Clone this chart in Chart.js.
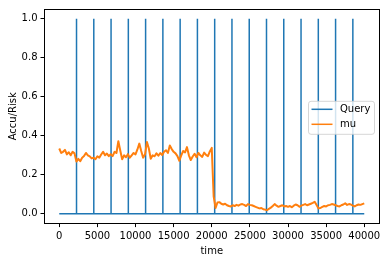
<!DOCTYPE html>
<html>
<head>
<meta charset="utf-8">
<script src="https://cdn.jsdelivr.net/npm/chart.js@4"></script>
<style>
  html, body { margin: 0; padding: 0; background: #fff; }
  canvas { display: block; }
</style>
</head>
<body>
<canvas id="chart" width="386" height="262"></canvas>
<script>
// mu is sampled every muStep time units, starting at 0
const muStep = 250;
const muValues = [
    // 0 - 4750
    0.335, 0.312, 0.318, 0.328, 0.305, 0.316, 0.300, 0.318, 0.310, 0.268,
    0.282, 0.270, 0.288, 0.296, 0.312, 0.300, 0.295, 0.284, 0.288, 0.280,
    // 5000 - 9750
    0.295, 0.288, 0.304, 0.318, 0.300, 0.309, 0.296, 0.306, 0.296, 0.318,
    0.312, 0.372, 0.325, 0.280, 0.300, 0.290, 0.306, 0.288, 0.300, 0.312,
    // 10000 - 14750
    0.305, 0.330, 0.360, 0.322, 0.288, 0.305, 0.368, 0.335, 0.282, 0.300,
    0.295, 0.310, 0.298, 0.312, 0.302, 0.318, 0.326, 0.312, 0.350, 0.332,
    // 15000 - 19750
    0.318, 0.310, 0.296, 0.272, 0.300, 0.322, 0.315, 0.342, 0.300, 0.276,
    0.294, 0.308, 0.290, 0.312, 0.300, 0.292, 0.314, 0.302, 0.296, 0.320,
    // 20000 - 24750
    0.338, 0.090, 0.030, 0.058, 0.060, 0.052, 0.048, 0.052, 0.044, 0.040,
    0.038, 0.044, 0.040, 0.046, 0.042, 0.048, 0.050, 0.046, 0.040, 0.050,
    // 25000 - 29750
    0.046, 0.044, 0.040, 0.036, 0.032, 0.028, 0.030, 0.024, 0.022, 0.018,
    0.026, 0.032, 0.040, 0.050, 0.042, 0.036, 0.040, 0.044, 0.038, 0.040,
    // 30000 - 34750
    0.036, 0.040, 0.034, 0.042, 0.048, 0.044, 0.036, 0.042, 0.046, 0.050,
    0.044, 0.048, 0.052, 0.056, 0.062, 0.045, 0.028, 0.030, 0.036, 0.040,
    // 35000 - 39750
    0.038, 0.044, 0.046, 0.050, 0.048, 0.044, 0.040, 0.038, 0.044, 0.048,
    0.054, 0.046, 0.050, 0.048, 0.042, 0.038, 0.044, 0.048, 0.046, 0.050,
    // 40000
    0.054
];

// times at which a query happened (value 1, otherwise 0)
const queryTimes = [
    2265, 4530, 6795, 9060, 11325, 13590, 15855, 18120, 20385,
    22650, 24915, 27180, 29445, 31710, 33975, 36240, 38505
];
const queryStart = 0;
const queryEnd = 40000;

const xTicks = [0, 5000, 10000, 15000, 20000, 25000, 30000, 35000, 40000];
const yTicks = [0.0, 0.2, 0.4, 0.6, 0.8, 1.0];

const FONT = { family: 'DejaVu Sans', size: 10 };
const BLUE = '#1f77b4';
const ORANGE = '#ff7f0e';

let muPoints = muValues.map((v, i) => ({ x: i * muStep, y: v }));

let queryPoints = [{ x: queryStart, y: 0 }];
queryTimes.forEach(t => {
    queryPoints.push({ x: t, y: 0 }, { x: t, y: 1 }, { x: t, y: 0 });
});
queryPoints.push({ x: queryEnd, y: 0 });

/**
 * Draws the axes frame and a matplotlib style legend box.
 */
const frameAndLegend = {
    id: 'frameAndLegend',
    afterDraw(chart) {
        const ctx = chart.ctx;
        const a = chart.chartArea;
        ctx.save();

        // frame
        ctx.strokeStyle = '#000';
        ctx.lineWidth = 1;
        const l = Math.round(a.left) + 0.5, r = Math.round(a.right) - 0.5;
        const t = Math.round(a.top) + 0.5, b = Math.round(a.bottom) - 0.5;
        ctx.strokeRect(l, t, r - l, b - t);

        // legend
        const w = 66, h = 33;
        const x0 = a.right - 5.5 - w;
        const y0 = (a.top + a.bottom) / 2 + 1 - h / 2;
        ctx.beginPath();
        ctx.roundRect(x0 + 0.5, y0 + 0.5, w, h, 2.5);
        ctx.fillStyle = 'rgba(255,255,255,0.8)';
        ctx.fill();
        ctx.strokeStyle = 'rgba(204,204,204,0.8)';
        ctx.lineWidth = 1;
        ctx.stroke();

        ctx.font = '10px "DejaVu Sans"';
        ctx.textBaseline = 'middle';
        ctx.textAlign = 'left';
        chart.data.datasets.forEach((ds, i) => {
            const y = y0 + 8.5 + i * 15;
            ctx.beginPath();
            ctx.moveTo(x0 + 3.5, y);
            ctx.lineTo(x0 + 24.5, y);
            ctx.strokeStyle = ds.borderColor;
            ctx.lineWidth = 1.5;
            ctx.stroke();
            ctx.fillStyle = '#000';
            ctx.fillText(ds.label, x0 + 32, y + 0.5);
        });
        ctx.restore();
    }
};

new Chart(document.getElementById('chart'), {
    type: 'line',
    data: {
        datasets: [
            {
                label: 'Query',
                data: queryPoints,
                borderColor: BLUE,
                borderWidth: 1.5,
                borderJoinStyle: 'bevel',
                pointRadius: 0,
                tension: 0,
                order: 1,
            },
            {
                label: 'mu',
                data: muPoints,
                borderColor: ORANGE,
                borderWidth: 2,
                borderJoinStyle: 'round',
                pointRadius: 0,
                tension: 0,
                order: 0,
            },
        ],
    },
    options: {
        responsive: false,
        animation: false,
        devicePixelRatio: 1,
        layout: { padding: { top: 6, right: 6.5, left: 0, bottom: 0 } },
        plugins: {
            legend: { display: false },
            tooltip: { enabled: false },
        },
        scales: {
            x: {
                type: 'linear',
                min: -2000,
                max: 42000,
                afterBuildTicks: s => { s.ticks = xTicks.map(v => ({ value: v })); },
                afterFit: s => { s.height = 38.4; },
                border: { display: false },
                grid: {
                    display: true, drawOnChartArea: false, drawTicks: true,
                    tickLength: 3.5, tickColor: '#000', tickWidth: 1,
                },
                ticks: {
                    color: '#000', font: FONT, padding: 3,
                    maxRotation: 0, autoSkip: false,
                    callback: v => String(v),
                },
                title: {
                    display: true, text: 'time', color: '#000', font: FONT,
                    padding: { top: 0, bottom: 5 },
                },
            },
            y: {
                type: 'linear',
                min: -0.05,
                max: 1.05,
                afterBuildTicks: s => { s.ticks = yTicks.map(v => ({ value: v })); },
                afterFit: s => { s.width = 44; },
                border: { display: false },
                grid: {
                    display: true, drawOnChartArea: false, drawTicks: true,
                    tickLength: 3.5, tickColor: '#000', tickWidth: 1,
                },
                ticks: {
                    color: '#000', font: FONT, padding: 3,
                    autoSkip: false,
                    callback: v => v.toFixed(1),
                },
                title: {
                    display: true, text: 'Accu/Risk', color: '#000', font: FONT,
                    padding: { top: 7, bottom: 0 },
                },
            },
        },
    },
    plugins: [frameAndLegend],
});
</script>
</body>
</html>
